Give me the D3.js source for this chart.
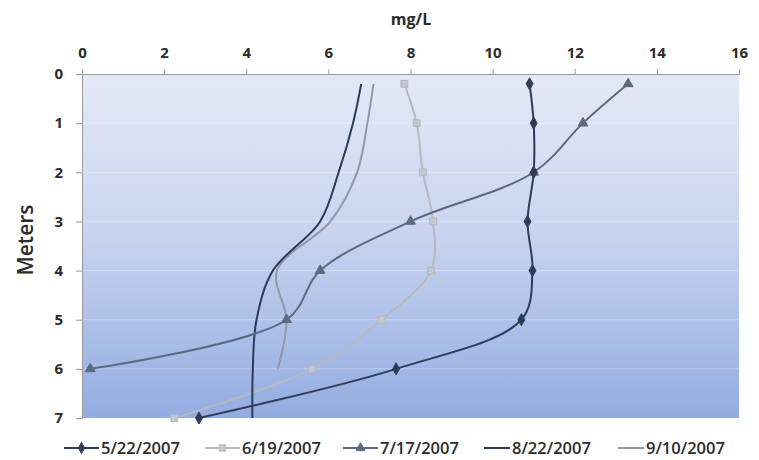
<!DOCTYPE html>
<html>
<head>
<meta charset="utf-8">
<script src="https://cdn.jsdelivr.net/npm/d3@7/dist/d3.min.js"></script>
<style>
  html, body { margin: 0; padding: 0; background: #ffffff; }
  svg { display: block; }
  text { font-family: "Open Sans", "DejaVu Sans", sans-serif; fill: #2b2b2b; }
</style>
</head>
<body>
<svg id="chart" width="759" height="460"></svg>
<script>
// Dissolved oxygen profiles: depth (m) vs concentration (mg/L)
const depths = [0.2, 1, 2, 3, 4, 5, 6, 7];
const may22 = [10.9, 11.0, 11.0, 10.85, 10.97, 10.7, 7.65, 2.85];
const jun19 = [7.85, 8.15, 8.3, 8.55, 8.5, 7.3, 5.6, 2.25];
const jul17 = [13.3, 12.2, 11.0, 8.0, 5.8, 4.98, 0.2];
const aug22 = [6.8, 6.6, 6.25, 5.8, 4.65, 4.25, 4.16, 4.15];
const sep10 = [7.1, 6.95, 6.7, 6.05, 4.75, 4.98, 4.77];

const xTicks = [0, 2, 4, 6, 8, 10, 12, 14, 16];
const yTicks = [0, 1, 2, 3, 4, 5, 6, 7];
const seriesNames = ["5/22/2007", "6/19/2007", "7/17/2007", "8/22/2007", "9/10/2007"];

const series = [
  { name: seriesNames[0], values: may22, color: "#2e3c57", marker: "diamond" },
  { name: seriesNames[1], values: jun19, color: "#b6b9c0", marker: "square" },
  { name: seriesNames[2], values: jul17, color: "#5b6a7e", marker: "triangle" },
  { name: seriesNames[3], values: aug22, color: "#2b3a58", marker: null },
  { name: seriesNames[4], values: sep10, color: "#8f99aa", marker: null }
];

const svg = d3.select("#chart");
const plot = { left: 82, right: 739, top: 74, bottom: 418 };

const x = d3.scaleLinear().domain([0, 16]).range([plot.left, plot.right]);
const y = d3.scaleLinear().domain([0, 7]).range([plot.top, plot.bottom]);

// plot background gradient
const defs = svg.append("defs");
const grad = defs.append("linearGradient")
  .attr("id", "bg").attr("x1", 0).attr("y1", 0).attr("x2", 0).attr("y2", 1);
grad.append("stop").attr("offset", "0%").attr("stop-color", "#e4e9f6");
grad.append("stop").attr("offset", "45%").attr("stop-color", "#c9d5ef");
grad.append("stop").attr("offset", "100%").attr("stop-color", "#93ace1");

svg.append("rect")
  .attr("x", plot.left).attr("y", plot.top)
  .attr("width", plot.right - plot.left).attr("height", plot.bottom - plot.top)
  .attr("fill", "url(#bg)");

// faint horizontal gridlines
svg.append("g").selectAll("line")
  .data(yTicks.slice(1, -1))
  .join("line")
  .attr("x1", plot.left).attr("x2", plot.right)
  .attr("y1", d => y(d)).attr("y2", d => y(d))
  .attr("stroke", "#ffffff").attr("stroke-opacity", 0.3).attr("stroke-width", 1);

// axes
const xAxis = d3.axisTop(x).tickValues(xTicks).tickSize(5).tickPadding(11).tickFormat(d3.format("d"));
const yAxis = d3.axisLeft(y).tickValues(yTicks).tickSize(6).tickPadding(13).tickFormat(d3.format("d"));

const gx = svg.append("g").attr("transform", `translate(0,${plot.top})`).call(xAxis);
const gy = svg.append("g").attr("transform", `translate(${plot.left},0)`).call(yAxis);
[gx, gy].forEach(g => {
  g.select(".domain").attr("stroke", "#9a9a9a");
  g.selectAll(".tick line").attr("stroke", "#9a9a9a");
  g.selectAll(".tick text")
    .attr("fill", "#262626")
    .style("font-size", "15px")
    .style("font-weight", "700");
});

// axis titles
svg.append("text")
  .attr("x", 411).attr("y", 25)
  .attr("text-anchor", "middle")
  .style("font-size", "16px").style("font-weight", "700")
  .text("mg/L");

svg.append("text")
  .attr("transform", `translate(33,${(plot.top + plot.bottom) / 2 - 6}) rotate(-90)`)
  .attr("text-anchor", "middle")
  .style("font-size", "21px").style("font-weight", "600")
  .text("Meters");

// markers
function drawMarker(sel, type, color, size) {
  if (type === "diamond") {
    sel.append("path").attr("d", d3.symbol(d3.symbolDiamond, size * 7)())
      .attr("fill", color).attr("stroke", color);
  } else if (type === "square") {
    sel.append("path").attr("d", d3.symbol(d3.symbolSquare, size * 8)())
      .attr("fill", "#c4c7cd").attr("stroke", color).attr("stroke-width", 1);
  } else if (type === "triangle") {
    sel.append("path").attr("d", d3.symbol(d3.symbolTriangle, size * 7)())
      .attr("fill", color).attr("stroke", color);
  }
}

const line = d3.line()
  .x(d => x(d.v))
  .y(d => y(d.depth))
  .curve(d3.curveCatmullRom.alpha(0.5));

const drawOrder = [1, 4, 3, 2, 0];
drawOrder.forEach(i => {
  const s = series[i];
  const pts = s.values.map((v, k) => ({ v, depth: depths[k] }));
  const g = svg.append("g");
  g.append("path")
    .datum(pts)
    .attr("d", line)
    .attr("fill", "none")
    .attr("stroke", s.color)
    .attr("stroke-width", 2);
  if (s.marker) {
    pts.forEach(p => {
      const m = g.append("g").attr("transform", `translate(${x(p.v)},${y(p.depth)})`);
      drawMarker(m, s.marker, s.color, 6);
    });
  }
});

// legend
const legendX = [64, 205, 343, 484, 618];
const legendY = 448;
series.forEach((s, i) => {
  const g = svg.append("g").attr("transform", `translate(${legendX[i]},${legendY})`);
  const lineLen = s.marker ? 35 : 26;
  g.append("line")
    .attr("x1", 0).attr("x2", lineLen).attr("y1", 0).attr("y2", 0)
    .attr("stroke", s.color).attr("stroke-width", 2);
  if (s.marker) {
    const m = g.append("g").attr("transform", `translate(${lineLen / 2},0)`);
    drawMarker(m, s.marker, s.color, 5);
  }
  g.append("text")
    .attr("x", lineLen + 2).attr("y", 0).attr("dy", "0.35em")
    .style("font-size", "16.5px").style("font-weight", "600")
    .attr("fill", "#333333")
    .text(s.name);
});
</script>
</body>
</html>
